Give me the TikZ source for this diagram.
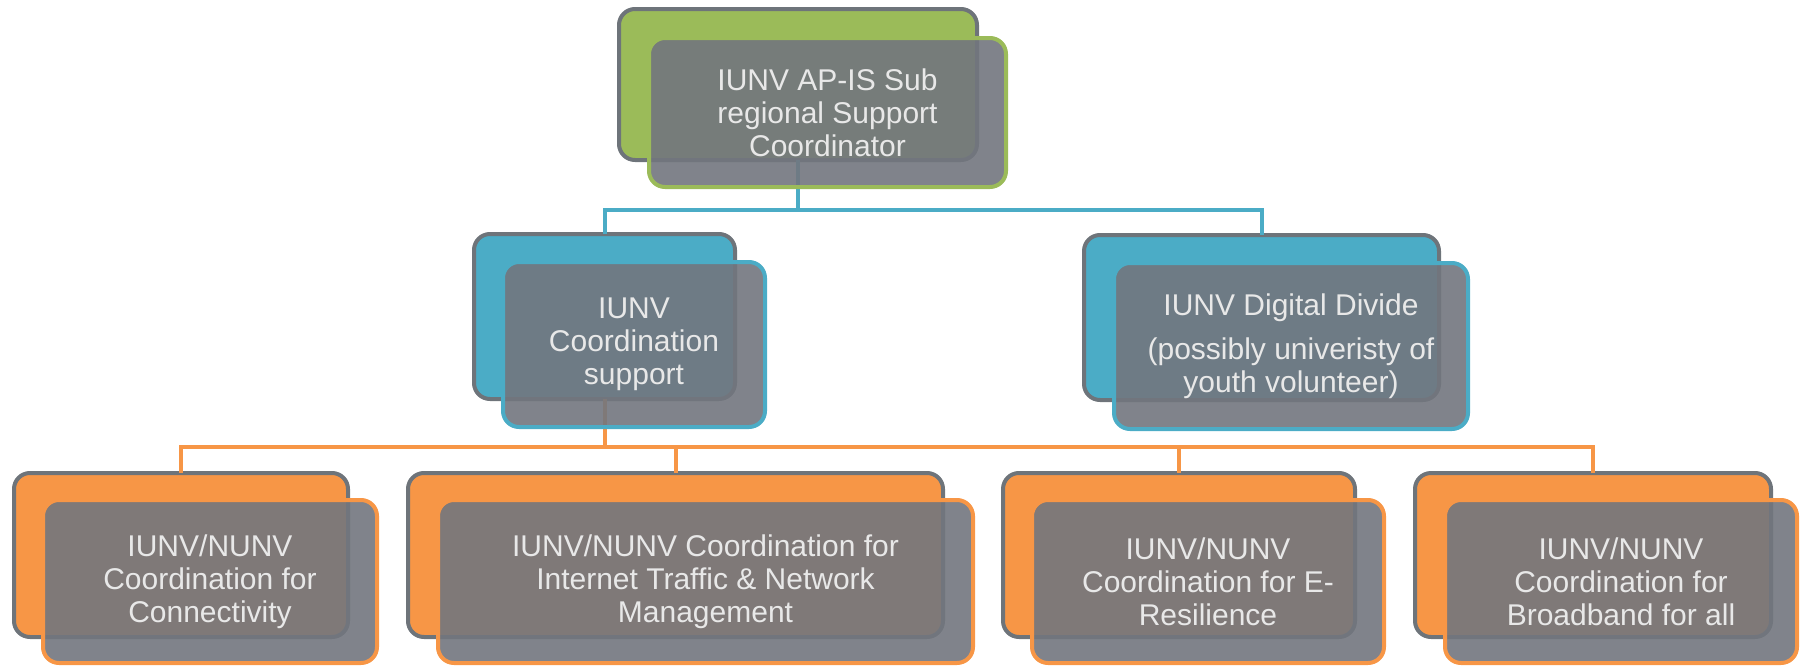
\documentclass[tikz,border=0pt]{standalone}
\usepackage{fontspec}
\setmainfont{Liberation Sans}
\definecolor{cgreen}{RGB}{155,187,89}
\definecolor{cblue}{RGB}{75,172,198}
\definecolor{corange}{RGB}{247,150,70}
\definecolor{cborder}{RGB}{110,116,122}
\definecolor{cfront}{RGB}{114,118,126}
\definecolor{ctext}{RGB}{232,232,232}
\tikzset{
  backbox/.style={rectangle, rounded corners=16pt, line width=4pt, draw=cborder, fill=#1, inner sep=0pt, outer sep=0pt},
  frontbox/.style={rectangle, rounded corners=16pt, line width=4pt, draw=#1, fill=cfront, fill opacity=0.9, text opacity=1, draw opacity=1, inner sep=0pt, outer sep=0pt, text=ctext, align=center, font=\fontsize{30}{33}\selectfont},
  conn/.style={line width=4pt, draw=#1, line join=miter}
}
\begin{document}
\begin{tikzpicture}[x=1pt,y=-1pt]
\useasboundingbox (0,0) rectangle (1800,667);
% back boxes
\node[backbox=cgreen, minimum width=358pt, minimum height=151pt] (topb) at (798,84.5) {};
\node[backbox=cblue, minimum width=261pt, minimum height=165pt] (mlb) at (604.5,316.5) {};
\node[backbox=cblue, minimum width=355pt, minimum height=165pt] (mrb) at (1261.5,317.5) {};
\node[backbox=corange, minimum width=334pt, minimum height=164pt] (b1b) at (181,555) {};
\node[backbox=corange, minimum width=535pt, minimum height=164pt] (b2b) at (675.5,555) {};
\node[backbox=corange, minimum width=352pt, minimum height=164pt] (b3b) at (1179,555) {};
\node[backbox=corange, minimum width=356pt, minimum height=164pt] (b4b) at (1593,555) {};
% connectors
\draw[conn=cblue] (topb.south) -- (topb.south |- 0,210);
\draw[conn=cblue] (mlb.north) -- (mlb.north |- 0,210) -- (mrb.north |- 0,210) -- (mrb.north);
\draw[conn=corange] (mlb.south) -- (mlb.south |- 0,447);
\draw[conn=corange] (b1b.north) -- (b1b.north |- 0,447) -- (b4b.north |- 0,447) -- (b4b.north);
\draw[conn=corange] (b2b.north) -- (b2b.north |- 0,447);
\draw[conn=corange] (b3b.north) -- (b3b.north |- 0,447);
% front boxes
\node[frontbox=cgreen, minimum width=357pt, minimum height=149pt] (topf) at (827.5,112.5) {IUNV AP-IS Sub\\regional Support\\Coordinator};
\node[frontbox=cblue, minimum width=262pt, minimum height=165pt] (mlf) at (634,344.5) {IUNV\\Coordination\\support};
\node[frontbox=cblue, minimum width=354pt, minimum height=166pt] (mrf) at (1291,346) {IUNV Digital Divide\\[11pt](possibly univeristy of\\youth volunteer)};
\node[frontbox=corange, minimum width=334pt, minimum height=163pt] (b1f) at (210,581.5) {IUNV/NUNV\\Coordination for\\Connectivity};
\node[frontbox=corange, minimum width=535pt, minimum height=163pt] (b2f) at (705.5,581.5) {IUNV/NUNV Coordination for\\Internet Traffic \& Network\\Management};
\node[frontbox=corange, minimum width=352pt, minimum height=163pt] (b3f) at (1208,581.5) {IUNV/NUNV\\Coordination for E-\\Resilience};
\node[frontbox=corange, minimum width=352pt, minimum height=163pt] (b4f) at (1621,581.5) {IUNV/NUNV\\Coordination for\\Broadband for all};
\end{tikzpicture}
\end{document}
